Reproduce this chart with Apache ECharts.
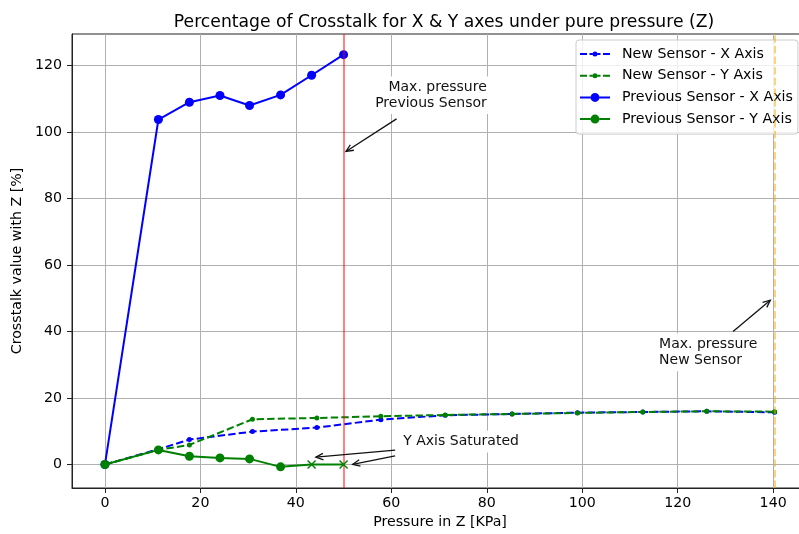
<!DOCTYPE html>
<html>
<head>
<meta charset="utf-8">
<script src="https://cdn.jsdelivr.net/npm/echarts@6/dist/echarts.min.js"></script>
<style>
  html, body { margin: 0; padding: 0; background: #fff; overflow: hidden; }
  #chart { width: 808px; height: 534px; }
</style>
</head>
<body>
<div id="chart"></div>
<script>
// Pressure steps (KPa) and crosstalk (%) for each sensor and axis
const pressureNew = [0, 11.2, 17.7, 30.9, 44.4, 57.8, 71.3, 85.3, 99.0, 112.7, 126.1, 140.3];
const newSensorX  = [0, 4.6, 7.5, 9.9, 11.1, 13.5, 14.8, 15.2, 15.6, 15.8, 16.0, 15.7];
const newSensorY  = [0, 4.4, 5.9, 13.6, 14.0, 14.5, 14.9, 15.2, 15.5, 15.8, 16.0, 15.9];

const pressurePrev = [0, 11.2, 17.7, 24.1, 30.3, 36.8, 43.3, 50.0];
const prevSensorX  = [0, 103.7, 108.9, 110.9, 107.9, 111.1, 117.0, 123.2];
const prevSensorY  = [0, 4.4, 2.5, 2.0, 1.7, -0.7, 0, 0];
const prevYSaturated = [false, false, false, false, false, false, true, true];

// Max. pressure limits
const maxPressurePrev = 50;
const maxPressureNew = 140.3;

// Tick labels
const xTicks = [0, 20, 40, 60, 80, 100, 120, 140];
const yTicks = [0, 20, 40, 60, 80, 100, 120];

// Annotations: text anchors and arrows [fromX, fromY, toX, toY]
const noteTexts = ['Max. pressure\nPrevious Sensor', 'Max. pressure\nNew Sensor', 'Y Axis Saturated'];
const noteAnchors = [[80.0, 111.0], [116.1, 33.7], [62.5, 6.9]];
const noteAligns = ['right', 'left', 'left'];
const arrows = [
  [61.1, 103.9, 50.5, 94.1],
  [131.6, 40.0, 139.4, 49.4],
  [60.8, 4.35, 44.2, 2.2],
  [60.8, 2.6, 51.9, 0.06]
];

const FONT = 'DejaVu Sans';
const FS = 14.2;
const zip = (xs, ys) => xs.map((x, i) => [x, ys[i]]);

// Legend glyphs (30x10 box): dashed line with small dot, solid line with large dot
const iconDashedDot = 'path://M0,4h7v2h-7z M9.5,4h3v2h-3z M17.5,4h3v2h-3z M23,4h7v2h-7z M12.5,5a2.5,2.5 0 1,0 5,0a2.5,2.5 0 1,0 -5,0z';
const iconSolidDot = 'path://M0,4h10.5v2h-10.5z M19.5,4h10.5v2h-10.5z M10.5,5a4.5,4.5 0 1,0 9,0a4.5,4.5 0 1,0 -9,0z';
const xMarker = 'path://M0,0L10,10M10,0L0,10';

const chart = echarts.init(document.getElementById('chart'), null, { renderer: 'canvas' });

const axisCommon = {
  type: 'value',
  nameLocation: 'middle',
  nameTextStyle: { fontFamily: FONT, fontSize: FS, color: '#000' },
  axisLine: { show: true, onZero: false, lineStyle: { color: '#222', width: 1 } },
  axisTick: { show: true, inside: false, length: 5, lineStyle: { color: '#222', width: 1 } },
  axisLabel: { fontFamily: FONT, fontSize: FS, color: '#000' },
  splitLine: { show: true, lineStyle: { color: '#b0b0b0', width: 1 } }
};

const option = {
  animation: false,
  backgroundColor: '#fff',
  title: {
    text: 'Percentage of Crosstalk for X & Y axes under pure pressure (Z)',
    left: 439,
    textAlign: 'center',
    top: 9,
    textStyle: { fontFamily: FONT, fontSize: 17.2, fontWeight: 'normal', color: '#000' }
  },
  grid: {
    left: 72, right: 0, top: 34, bottom: 45,
    show: true, borderColor: '#222', borderWidth: 1, backgroundColor: 'transparent'
  },
  xAxis: Object.assign({}, axisCommon, {
    min: -6.9, max: 147.3,
    splitNumber: 8, minInterval: 20, maxInterval: 20,
    name: 'Pressure in Z [KPa]',
    nameGap: 27,
    axisTick: Object.assign({}, axisCommon.axisTick, { customValues: xTicks }),
    axisLabel: Object.assign({}, axisCommon.axisLabel, { margin: 8, customValues: xTicks })
  }),
  yAxis: Object.assign({}, axisCommon, {
    min: -7.05, max: 129.4,
    splitNumber: 7, minInterval: 20, maxInterval: 20,
    name: 'Crosstalk value with Z [%]',
    nameGap: 42,
    nameRotate: 90,
    axisTick: Object.assign({}, axisCommon.axisTick, { customValues: yTicks }),
    axisLabel: Object.assign({}, axisCommon.axisLabel, { margin: 10, customValues: yTicks })
  }),
  legend: {
    data: [
      { name: 'New Sensor - X Axis', icon: iconDashedDot },
      { name: 'New Sensor - Y Axis', icon: iconDashedDot },
      { name: 'Previous Sensor - X Axis', icon: iconSolidDot },
      { name: 'Previous Sensor - Y Axis', icon: iconSolidDot }
    ],
    orient: 'vertical',
    left: 576, top: 40,
    padding: [6, 5, 7, 4],
    itemGap: 5.7,
    itemWidth: 30,
    itemHeight: 10,
    backgroundColor: 'rgba(255,255,255,0.8)',
    borderColor: '#cccccc',
    borderWidth: 1,
    borderRadius: 3,
    textStyle: { fontFamily: FONT, fontSize: FS, color: '#000', lineHeight: 16, padding: [0, 0, 0, 7] }
  },
  series: [
    {
      name: 'New Sensor - X Axis',
      type: 'line',
      data: zip(pressureNew, newSensorX),
      color: '#0000ff',
      symbol: 'circle', symbolSize: 5, showSymbol: true,
      lineStyle: { color: '#0000ff', width: 2, type: [7.4, 3.2] },
      itemStyle: { color: '#0000ff' },
      z: 2,
      markLine: {
        silent: true, symbol: 'none', animation: false,
        label: { show: false },
        data: [
          { xAxis: maxPressurePrev, lineStyle: { color: '#ff0000', opacity: 0.55, width: 1.8, type: 'solid' } },
          { xAxis: maxPressureNew, lineStyle: { color: '#ffa500', opacity: 0.5, width: 2, type: [7.4, 3.2] } }
        ]
      }
    },
    {
      name: 'New Sensor - Y Axis',
      type: 'line',
      data: zip(pressureNew, newSensorY),
      color: '#008000',
      symbol: 'circle', symbolSize: 5,
      lineStyle: { color: '#008000', width: 2, type: [7.4, 3.2] },
      itemStyle: { color: '#008000' },
      z: 3
    },
    {
      name: 'Previous Sensor - X Axis',
      type: 'line',
      data: zip(pressurePrev, prevSensorX),
      color: '#0000ff',
      symbol: 'circle', symbolSize: 9,
      lineStyle: { color: '#0000ff', width: 2 },
      itemStyle: { color: '#0000ff' },
      z: 4
    },
    {
      name: 'Previous Sensor - Y Axis',
      type: 'line',
      data: pressurePrev.map((x, i) => prevYSaturated[i]
        ? { value: [x, prevSensorY[i]], symbol: xMarker, symbolSize: 8,
            itemStyle: { color: 'rgba(0,0,0,0)', borderColor: '#008000', borderWidth: 1.4 } }
        : [x, prevSensorY[i]]),
      color: '#008000',
      symbol: 'circle', symbolSize: 9,
      lineStyle: { color: '#008000', width: 2 },
      itemStyle: { color: '#008000' },
      z: 5
    },
    {
      name: 'arrows',
      type: 'custom',
      silent: true,
      clip: false,
      z: 6,
      data: arrows,
      renderItem: function (params, api) {
        const p1 = api.coord([api.value(0), api.value(1)]);
        const p2 = api.coord([api.value(2), api.value(3)]);
        const ang = Math.atan2(p2[1] - p1[1], p2[0] - p1[0]);
        const hl = 8, spread = 0.42;
        const a = [p2[0] - hl * Math.cos(ang - spread), p2[1] - hl * Math.sin(ang - spread)];
        const b = [p2[0] - hl * Math.cos(ang + spread), p2[1] - hl * Math.sin(ang + spread)];
        return {
          type: 'group',
          children: [
            { type: 'line', shape: { x1: p1[0], y1: p1[1], x2: p2[0], y2: p2[1] },
              style: { stroke: '#111', lineWidth: 1.3 } },
            { type: 'polyline', shape: { points: [a, p2, b] },
              style: { stroke: '#111', lineWidth: 1.3, fill: null } }
          ]
        };
      }
    },
    {
      name: 'notes',
      type: 'custom',
      silent: true,
      clip: false,
      z: 6,
      data: noteAnchors.map((p, i) => [p[0], p[1], i]),
      renderItem: function (params, api) {
        const idx = api.value(2);
        const p = api.coord([api.value(0), api.value(1)]);
        const align = noteAligns[idx];
        const pad = 3;
        return {
          type: 'text',
          x: align === 'right' ? p[0] + pad : p[0] - pad,
          y: p[1],
          style: {
            text: noteTexts[idx],
            align: align,
            verticalAlign: 'middle',
            fill: '#111',
            fontFamily: FONT,
            fontSize: 14,
            lineHeight: 15.8,
            backgroundColor: '#fff',
            padding: pad
          }
        };
      }
    }
  ]
};

chart.setOption(option);
</script>
</body>
</html>
